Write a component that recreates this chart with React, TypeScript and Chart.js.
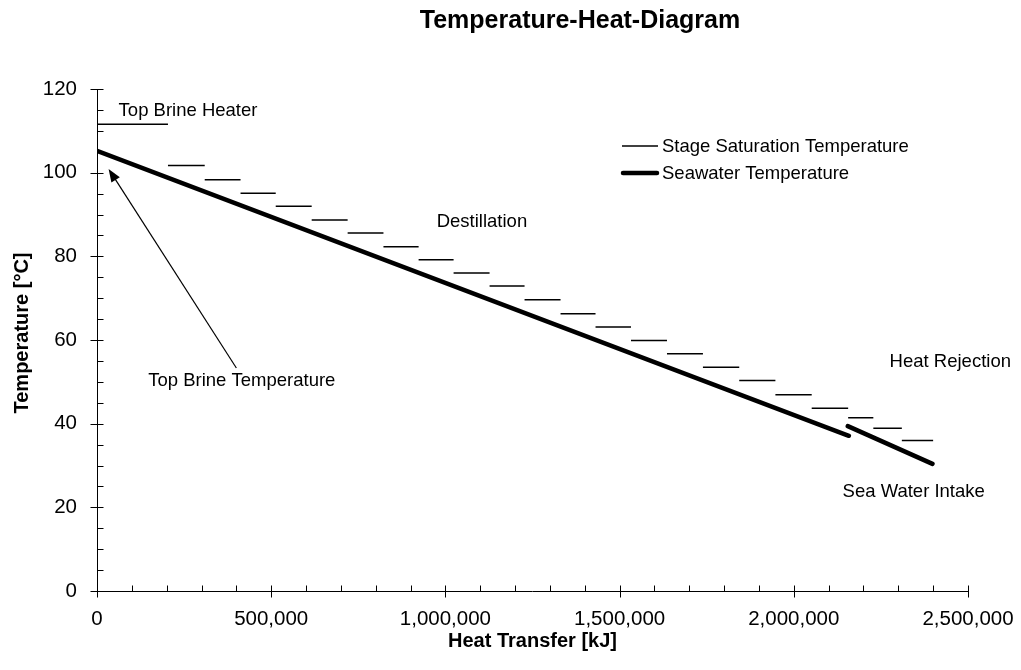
import React, { useEffect, useRef } from "react";
import { Chart, registerables } from "chart.js";

Chart.register(...registerables);

// ---------- data ----------
const chartTitle = "Temperature-Heat-Diagram";
const xAxisTitle = "Heat Transfer [kJ]";
const yAxisTitle = "Temperature [°C]";

const xTickValues = [0, 500000, 1000000, 1500000, 2000000, 2500000];
const yTickValues = [0, 20, 40, 60, 80, 100, 120];
const xMinorStep = 100000;
const yMinorStep = 5;

// stage boundaries along the heat-transfer axis (kJ)
const stageBounds = [
  0, 203700, 309200, 412000, 513000, 616200, 719400, 822200, 923100, 1023500,
  1126800, 1227200, 1330500, 1430900, 1532700, 1636000, 1739200, 1843400,
  1947200, 2051400, 2156000, 2228300, 2310100, 2399900,
];
// saturation temperature per stage (first = top brine heater)
const stageTemps = [
  111.6, 101.7, 98.3, 95.1, 92.0, 88.7, 85.6, 82.3, 79.2, 76.0, 72.9, 69.6,
  66.3, 63.1, 59.9, 56.7, 53.5, 50.3, 46.9, 43.7, 41.4, 38.9, 36.0,
];

// seawater temperature – heat recovery section and heat rejection section
const recoveryX = [0, 2158000];
const recoveryT = [105.2, 37.1];
const rejectionX = [2155000, 2398000];
const rejectionT = [39.4, 30.4];

const seriesLabels = ["Stage Saturation Temperature", "Seawater Temperature"];

const noteTexts = [
  "Top Brine Heater",
  "Destillation",
  "Top Brine Temperature",
  "Heat Rejection",
  "Sea Water Intake",
];
const noteX = [62000, 975000, 147000, 2275000, 2140000];
const noteY = [114.8, 88.3, 50.2, 54.7, 23.7];

const arrowFromX = 400000;
const arrowFromY = 53.3;
const arrowToX = 33300;
const arrowToY = 100.9;

// ---------- helpers ----------
const FONT = "'Liberation Sans', Arial, Helvetica, sans-serif";
const fmt = (v: number) => v.toLocaleString("en-US");

function buildStagePoints() {
  const pts: { x: number; y: number | null }[] = [];
  for (let i = 0; i < stageTemps.length; i++) {
    pts.push({ x: stageBounds[i], y: stageTemps[i] });
    pts.push({ x: stageBounds[i + 1], y: stageTemps[i] });
    pts.push({ x: stageBounds[i + 1], y: null });
  }
  return pts;
}

function buildSeawaterPoints() {
  const pts: { x: number; y: number | null }[] = [];
  recoveryX.forEach((x, i) => pts.push({ x, y: recoveryT[i] }));
  pts.push({ x: (recoveryX[1] + rejectionX[0]) / 2, y: null });
  rejectionX.forEach((x, i) => pts.push({ x, y: rejectionT[i] }));
  return pts;
}

const overlayPlugin = {
  id: "overlay",
  afterDraw(chart: any) {
    const { ctx, scales } = chart;
    const xs = scales.x;
    const ys = scales.y;
    const left = xs.left;
    const right = xs.right;
    const top = ys.top;
    const bottom = ys.bottom;
    ctx.save();
    ctx.strokeStyle = "#000";
    ctx.fillStyle = "#000";
    ctx.lineWidth = 1;

    // axis lines
    const bY = Math.round(bottom) + 0.5;
    const lX = Math.round(left) + 0.5;
    ctx.beginPath();
    ctx.moveTo(left, bY);
    ctx.lineTo(right, bY);
    ctx.moveTo(lX, top);
    ctx.lineTo(lX, bottom);
    ctx.stroke();

    // x ticks
    const xMax = xTickValues[xTickValues.length - 1];
    ctx.beginPath();
    for (let v = 0; v <= xMax + 1; v += xMinorStep) {
      const px = Math.round(xs.getPixelForValue(v)) + 0.5;
      const major = xTickValues.includes(v);
      ctx.moveTo(px, bY - 6);
      ctx.lineTo(px, major ? bY + 6 : bY);
    }
    // y ticks
    const yMax = yTickValues[yTickValues.length - 1];
    for (let v = 0; v <= yMax + 0.01; v += yMinorStep) {
      const py = Math.round(ys.getPixelForValue(v)) + 0.5;
      const major = yTickValues.includes(v);
      ctx.moveTo(major ? lX - 7 : lX, py);
      ctx.lineTo(lX + 6, py);
    }
    ctx.stroke();

    // title
    ctx.textAlign = "center";
    ctx.textBaseline = "middle";
    ctx.font = `bold 25px ${FONT}`;
    ctx.fillText(chartTitle, 580, 21);

    // axis titles
    ctx.font = `bold 20px ${FONT}`;
    ctx.fillText(xAxisTitle, (left + right) / 2, 641);
    ctx.save();
    ctx.translate(22, 333);
    ctx.rotate(-Math.PI / 2);
    ctx.fillText(yAxisTitle, 0, 0);
    ctx.restore();

    // annotations
    ctx.font = `18.5px ${FONT}`;
    ctx.textAlign = "left";
    noteTexts.forEach((t, i) => {
      ctx.fillText(t, xs.getPixelForValue(noteX[i]), ys.getPixelForValue(noteY[i]));
    });

    // arrow
    const ax0 = xs.getPixelForValue(arrowFromX);
    const ay0 = ys.getPixelForValue(arrowFromY);
    const ax1 = xs.getPixelForValue(arrowToX);
    const ay1 = ys.getPixelForValue(arrowToY);
    const ang = Math.atan2(ay1 - ay0, ax1 - ax0);
    const headLen = 13;
    const headW = 5;
    ctx.lineWidth = 1.2;
    ctx.beginPath();
    ctx.moveTo(ax0, ay0);
    ctx.lineTo(ax1 - Math.cos(ang) * headLen * 0.8, ay1 - Math.sin(ang) * headLen * 0.8);
    ctx.stroke();
    ctx.beginPath();
    ctx.moveTo(ax1, ay1);
    ctx.lineTo(
      ax1 - Math.cos(ang) * headLen + Math.sin(ang) * headW,
      ay1 - Math.sin(ang) * headLen - Math.cos(ang) * headW
    );
    ctx.lineTo(
      ax1 - Math.cos(ang) * headLen - Math.sin(ang) * headW,
      ay1 - Math.sin(ang) * headLen + Math.cos(ang) * headW
    );
    ctx.closePath();
    ctx.fill();

    // legend
    const legendX0 = 622;
    const legendX1 = 658;
    const legendY = [146, 173];
    ctx.font = `18.5px ${FONT}`;
    ctx.textAlign = "left";
    chart.data.datasets.forEach((ds: any, i: number) => {
      ctx.lineWidth = ds.borderWidth;
      ctx.lineCap = ds.borderCapStyle || "butt";
      ctx.beginPath();
      ctx.moveTo(legendX0 + (i === 1 ? 1 : 0), legendY[i]);
      ctx.lineTo(legendX1 - (i === 1 ? 1 : 0), legendY[i]);
      ctx.stroke();
      ctx.fillText(ds.label, 662, legendY[i] + 1);
    });
    ctx.restore();
  },
};

export default function App() {
  const canvasRef = useRef<HTMLCanvasElement | null>(null);

  useEffect(() => {
    if (!canvasRef.current) return;
    const chart = new Chart(canvasRef.current, {
      type: "line",
      data: {
        datasets: [
          {
            label: seriesLabels[0],
            data: buildStagePoints() as any,
            borderColor: "#000",
            borderWidth: 1.5,
            pointRadius: 0,
            spanGaps: false,
            fill: false,
            tension: 0,
          },
          {
            label: seriesLabels[1],
            data: buildSeawaterPoints() as any,
            borderColor: "#000",
            borderWidth: 4.5,
            borderCapStyle: "round",
            borderJoinStyle: "round",
            pointRadius: 0,
            spanGaps: false,
            fill: false,
            tension: 0,
          },
        ],
      },
      options: {
        animation: false,
        responsive: true,
        maintainAspectRatio: false,
        layout: { padding: { top: 89, right: 53, bottom: 0, left: 0 } },
        plugins: {
          legend: { display: false },
          title: { display: false },
          tooltip: { enabled: false },
        },
        scales: {
          x: {
            type: "linear",
            min: xTickValues[0],
            max: xTickValues[xTickValues.length - 1],
            grid: { display: false, drawTicks: false },
            border: { display: false },
            afterBuildTicks: (scale: any) => {
              scale.ticks = xTickValues.map((v) => ({ value: v }));
            },
            afterFit: (scale: any) => {
              scale.height = 79;
              scale.paddingLeft = 0;
              scale.paddingRight = 0;
            },
            ticks: {
              padding: 16,
              color: "#000",
              maxRotation: 0,
              autoSkip: false,
              font: { family: FONT, size: 20.5 },
              callback: (v: any) => fmt(Number(v)),
            },
          },
          y: {
            type: "linear",
            min: yTickValues[0],
            max: yTickValues[yTickValues.length - 1],
            grid: { display: false, drawTicks: false },
            border: { display: false },
            afterBuildTicks: (scale: any) => {
              scale.ticks = yTickValues.map((v) => ({ value: v }));
            },
            afterFit: (scale: any) => {
              scale.width = 97;
              scale.paddingTop = 0;
              scale.paddingBottom = 0;
            },
            ticks: {
              padding: 20,
              color: "#000",
              autoSkip: false,
              font: { family: FONT, size: 20.5 },
              callback: (v: any) => String(v),
            },
          },
        },
      },
      plugins: [overlayPlugin],
    });
    return () => chart.destroy();
  }, []);

  return (
    <div
      style={{
        position: "fixed",
        left: 0,
        top: 0,
        width: 1021,
        height: 670,
        background: "#fff",
      }}
    >
      <canvas ref={canvasRef} />
    </div>
  );
}
